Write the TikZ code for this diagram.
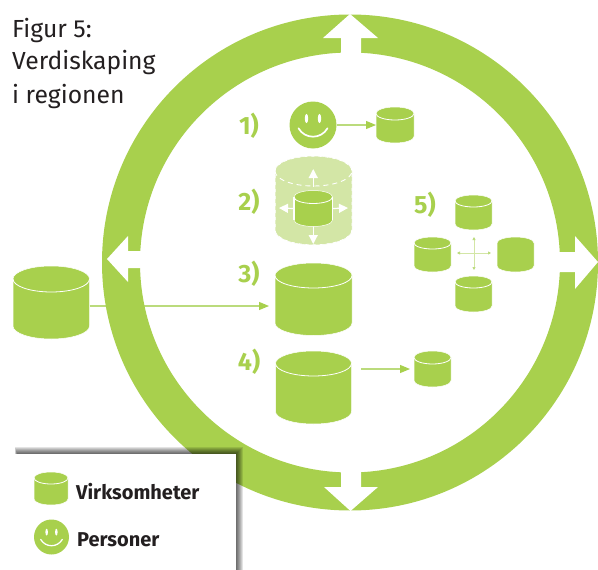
\documentclass[tikz,border=0pt]{standalone}
\usepackage{fontspec}
\setmainfont{Fira Sans}
\usetikzlibrary{arrows.meta}
\definecolor{lime}{HTML}{A8D04D}
\definecolor{palelime}{HTML}{D3E6A6}
\definecolor{linelime}{HTML}{BBDB7C}
\definecolor{inkdark}{HTML}{231F20}
\newcommand{\cylbody}[7]{% name,x1,x2,top,bottom,ry,fillcolor
  \pgfmathsetmacro{\cxm}{(#2+#3)/2}\pgfmathsetmacro{\cym}{(#4+#5)/2}
  \pgfmathsetmacro{\cw}{#3-#2}\pgfmathsetmacro{\ch}{#5-#4}
  \pgfmathsetmacro{\rx}{(#3-#2)/2}\pgfmathsetmacro{\ya}{#4+#6}\pgfmathsetmacro{\yb}{#5-#6}
  \fill[#7,draw=white,line width=.5pt] (#2,\ya) arc[start angle=180,end angle=360,x radius=\rx,y radius=#6] -- (#3,\yb) arc[start angle=0,end angle=180,x radius=\rx,y radius=#6] -- cycle;
  \node[nodebox,minimum width=\cw pt,minimum height=\ch pt] (#1) at (\cxm,\cym) {};
}
\newcommand{\cyl}[6]{% name,x1,x2,top,bottom,ry
  \cylbody{#1}{#2}{#3}{#4}{#5}{#6}{lime}
  \draw[white,line width=.8pt] (#2,\ya) arc[start angle=180,end angle=0,x radius=\rx,y radius=#6];
}
\newcommand{\smiley}[4]{% name,x,y,r
  \node[circle,fill=lime,inner sep=0pt,minimum size=#4*2pt] (#1) at (#2,#3) {};
  \begin{scope}[shift={(#2,#3)},x=#4/23.5*1pt,y=-#4/23.5*1pt]
    \fill[white] (-6.5,-6.5) ellipse[x radius=1.7,y radius=4.6];
    \fill[white] (6.5,-6.5) ellipse[x radius=1.7,y radius=4.6];
    \draw[white,line width=#4/23.5*1.7pt,line cap=round] (-14.5,3.3) .. controls (-8,14.5) and (8,14.5) .. (14.5,3.3);
  \end{scope}
}
\tikzset{
  nodebox/.style={inner sep=0pt,outer sep=0pt},
  num/.style={font=\fontsize{25}{25}\selectfont\bfseries,text=lime,inner sep=0pt},
  title/.style={font=\fontsize{24.7}{24.7}\selectfont,text=inkdark,anchor=west,inner sep=0pt},
  legend/.style={font=\fontsize{20}{20}\selectfont\bfseries,text=inkdark,anchor=west,inner sep=0pt},
  link/.style={linelime,line width=1.1pt,-{Triangle[length=10pt,width=8pt,color=lime]}},
  whitearrow/.style={white,line width=1.2pt,-{Triangle[length=9pt,width=9pt]}},
  tiny/.style={palelime,line width=.7pt,{Triangle[length=3pt,width=3pt,color=linelime]}-{Triangle[length=3pt,width=3pt,color=linelime]}},
}
\begin{document}
\begin{tikzpicture}[x=1pt,y=-1pt]
\useasboundingbox (0,0) rectangle (598,570);
\fill[white] (0,0) rectangle (598,570);

% cylinder outside and cylinder 3 with their connector behind the ring
\cyl{outer}{13}{89.5}{266}{339}{13}
\cyl{three}{275}{352}{263}{335.5}{12.5}
\coordinate (threein) at (269,306);
\draw[link] (outer.east |- threein) -- (threein);

% ring
\fill[lime,even odd rule] (350,262.5) circle[radius=248] (350,262.5) circle[radius=210];
% ring arrows
\fill[white] (350,14) -- (378,38) -- (361,38) -- (361,54) -- (341,54) -- (341,38) -- (323,38) -- cycle;
\fill[white] (350.5,511) -- (378,487) -- (361,487) -- (361,471) -- (341,471) -- (341,487) -- (324,487) -- cycle;
\fill[white] (598,262) -- (575,236) -- (575,252) -- (559,252) -- (559,272) -- (575,272) -- (575,289) -- cycle;
\fill[white] (107,259) -- (128,236) -- (128,251) -- (142,251) -- (142,268) -- (128,268) -- (128,282) -- cycle;

% title
\node[title] (t1) at (12,30) {Figur 5:};
\node[title] (t2) at (12,62) {Verdiskaping};
\node[title] (t3) at (12,96) {i regionen};

% numbers
\node[num] (n1) at (249,126) {1)};
\node[num] (n2) at (249,202) {2)};
\node[num] (n3) at (249,274) {3)};
\node[num] (n4) at (249,362) {4)};
\node[num] (n5) at (425,205) {5)};

% 1
\smiley{face}{313}{125}{23.5}
\cyl{one}{376}{414}{107}{143}{6.5}
\draw[link] (face.east) -- (one.west);

% 2
\cylbody{grow}{275}{352}{156}{245}{15}{palelime}
\draw[white,line width=1pt,dash pattern=on 3pt off 4pt] (275,171) arc[start angle=180,end angle=360,x radius=38.5,y radius=15] -- (352,230) arc[start angle=0,end angle=180,x radius=38.5,y radius=15] -- cycle;
\draw[white,line width=.9pt,dash pattern=on 5pt off 4pt] (275,171) arc[start angle=180,end angle=0,x radius=38.5,y radius=15];
\cyl{two}{294}{332.5}{190.5}{226.5}{6.5}
\draw[white,line width=1.2pt] (294,197) -- (294,220) (332.5,197) -- (332.5,220);
\coordinate (twoup) at (two.north |- 0,169);
\coordinate (twodown) at (two.south |- 0,244);
\coordinate (twoleft) at (279,208);
\coordinate (tworight) at (348,208);
\draw[whitearrow] (two.north |- 0,187) -- (twoup);
\draw[whitearrow] (two.south) -- (twodown);
\draw[whitearrow] (two.west) -- (twoleft);
\draw[whitearrow] (two.east) -- (tworight);

% 4
\cyl{four}{275.5}{351.5}{351}{424}{12.5}
\cyl{foursmall}{414}{451}{351}{387}{6.5}
\coordinate (fourout) at (361,369);
\coordinate (fourin) at (410,369);
\draw[link] (fourout) -- (fourin);

% 5
\cyl{ftop}{455}{492}{195}{230}{6}
\cyl{fleft}{414}{451}{237}{272}{6}
\cylbody{fright}{497}{534}{237}{272}{6}{lime}
\cyl{fbottom}{455}{492}{276}{312}{6}
\coordinate (cu) at (474,237);
\coordinate (cd) at (474,270);
\coordinate (cl) at (457,253);
\coordinate (cr) at (491,253);
\draw[tiny] (cu) -- (cd);
\draw[tiny] (cl) -- (cr);

% legend
\foreach \k in {0,...,7}{
  \fill[black,opacity=.11] (15+\k*.3,447+\k) rectangle (243-\k,570);
}
\fill[white] (0,454) rectangle (236,570);
\cyl{legcyl}{34}{68}{472}{505}{6}
\node[legend] (legv) at (76,492) {Virksomheter};
\smiley{legface}{51.5}{537}{17.5}
\node[legend] (legp) at (77,540) {Personer};
\end{tikzpicture}
\end{document}
